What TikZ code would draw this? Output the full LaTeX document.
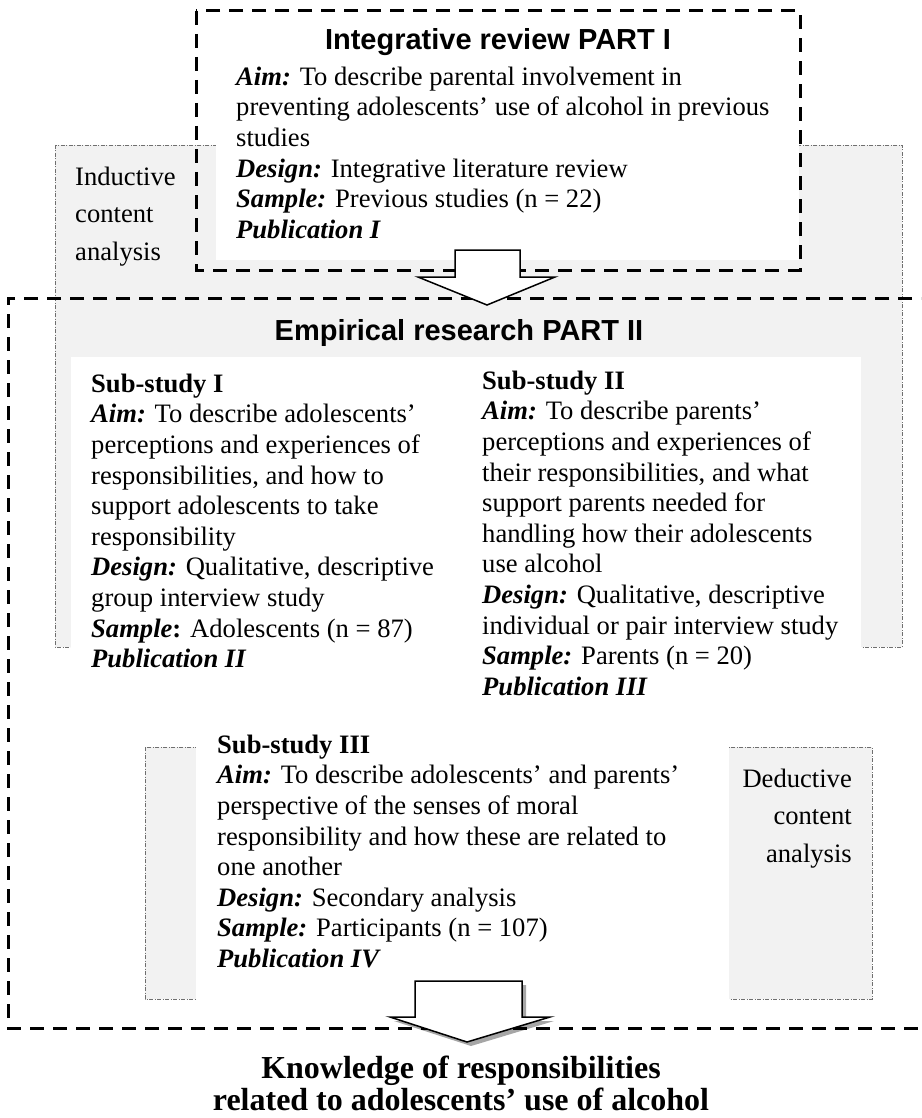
\documentclass[tikz,border=0pt]{standalone}
\usepackage{fontspec}
\setmainfont{Liberation Serif}
\newfontfamily\arialfont{Liberation Sans}
\usetikzlibrary{shadows}
\definecolor{boxgrey}{HTML}{F2F2F2}
\definecolor{dashgrey}{HTML}{6F6F6F}
\newcommand{\lbl}[1]{\textbf{\textit{#1}}}
\begin{document}
\begin{tikzpicture}[x=1pt,y=-1pt,
  greybox/.style={fill=boxgrey, draw=dashgrey, line width=0.8pt, dash pattern=on 4pt off 1.5pt on 1pt off 1.5pt},
  whitebox/.style={fill=white, draw=none},
  partbox/.style={draw=black, line width=3pt, dash pattern=on 14pt off 9pt},
  blockarrow/.style={fill=white, draw=black, line width=1.5pt, line join=miter},
  body/.style={font=\fontsize{26.6}{30.6}\selectfont, align=left, inner sep=0pt, anchor=north west},
  sidelabel/.style={font=\fontsize{26.6}{37.5}\selectfont, inner sep=0pt},
  parttitle/.style={font=\arialfont\bfseries\fontsize{29}{33}\selectfont, inner sep=0pt, anchor=base},
  result/.style={font=\bfseries\fontsize{32}{31}\selectfont, align=center, inner sep=0pt, anchor=north}
]
\useasboundingbox (0,0) rectangle (921,1118);
\clip (0,0) rectangle (921,1118);
\fill[white] (0,0) rectangle (921,1118);

% grey analysis boxes
\draw[greybox] (55,145) rectangle (902,647);
\draw[greybox] (145,747) rectangle (872,999);

% white text areas
\fill[whitebox] (216,20) rectangle (799,260);
\fill[whitebox] (71,357) rectangle (861,712);
\fill[whitebox] (196,735) rectangle (729,1001);

% dashed part boxes
\draw[partbox] (196,11) rectangle (800,270);
\draw[partbox] (935,298) -- (8,298) -- (8,1028) -- (935,1028);

% block arrows
\filldraw[blockarrow] (455,250) -- (520,250) -- (520,277) -- (555,277) -- (487,305) -- (418,277) -- (455,277) -- cycle;
\filldraw[blockarrow, drop shadow={shadow xshift=4pt, shadow yshift=-4pt, opacity=0.35, fill=black}]
  (415,981) -- (522,981) -- (522,1017) -- (550,1017) -- (467,1042) -- (390,1017) -- (415,1017) -- cycle;

% texts
\node[parttitle] (t1) at (498,50) {Integrative review PART I};
\node[body] (p1) at (236,63.6) {\strut\lbl{Aim:} To describe parental involvement in\\
preventing adolescents’ use of alcohol in previous\\
studies\\
\lbl{Design:} Integrative literature review\\
\lbl{Sample:} Previous studies (n = 22)\\
\lbl{Publication I}};

\node[sidelabel, align=left, anchor=north west] (ind) at (75,158.75) {\strut Inductive\\content\\analysis};
\node[sidelabel, align=right, anchor=north east] (ded) at (852,760.75) {\strut Deductive\\content\\analysis};

\node[parttitle] (t2) at (459,340) {Empirical research PART II};

\node[body] (s1) at (91,370.6) {\strut\textbf{Sub-study I}\\
\lbl{Aim:} To describe adolescents’\\
perceptions and experiences of\\
responsibilities, and how to\\
support adolescents to take\\
responsibility\\
\lbl{Design:} Qualitative, descriptive\\
group interview study\\
\textbf{\textit{Sample}:} Adolescents (n = 87)\\
\lbl{Publication II}};

\node[body] (s2) at (482,367.6) {\strut\textbf{Sub-study II}\\
\lbl{Aim:} To describe parents’\\
perceptions and experiences of\\
their responsibilities, and what\\
support parents needed for\\
handling how their adolescents\\
use alcohol\\
\lbl{Design:} Qualitative, descriptive\\
individual or pair interview study\\
\lbl{Sample:} Parents (n = 20)\\
\lbl{Publication III}};

\node[body] (s3) at (217,731.6) {\strut\textbf{Sub-study III}\\
\lbl{Aim:} To describe adolescents’ and parents’\\
perspective of the senses of moral\\
responsibility and how these are related to\\
one another\\
\lbl{Design:} Secondary analysis\\
\lbl{Sample:} Participants (n = 107)\\
\lbl{Publication IV}};

\node[result] (res) at (461,1055.3) {\strut Knowledge of responsibilities\\related to adolescents’ use of alcohol};
\end{tikzpicture}
\end{document}
